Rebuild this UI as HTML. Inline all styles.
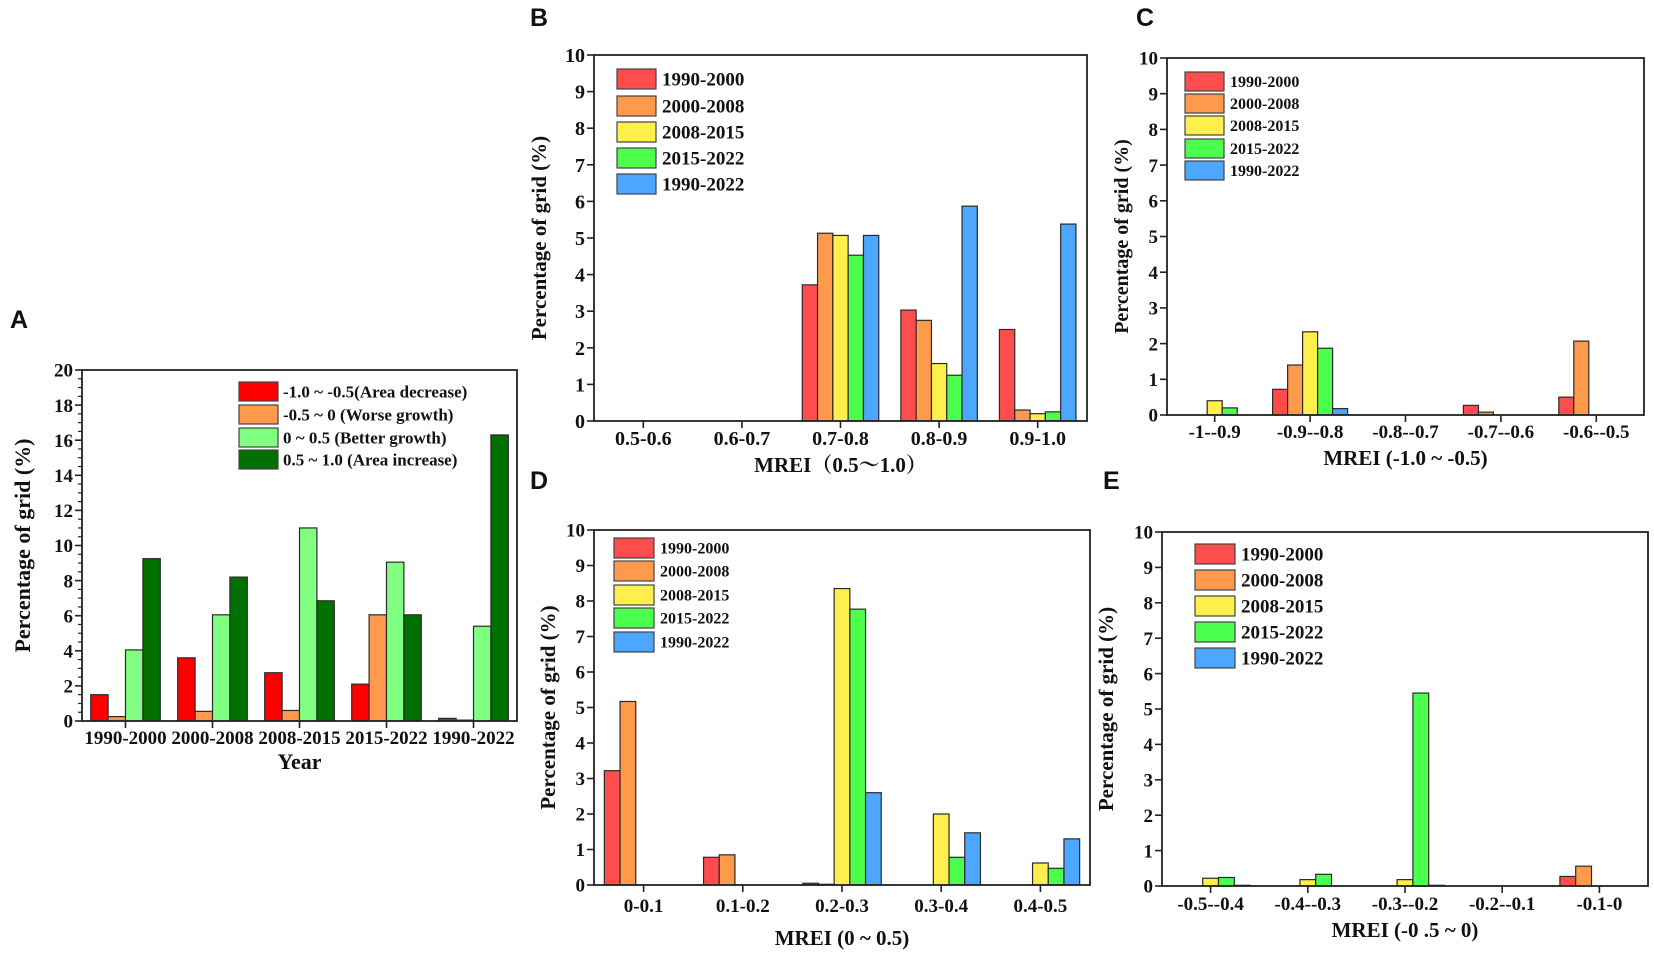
<!DOCTYPE html>
<html><head><meta charset="utf-8">
<style>
html,body{margin:0;padding:0;background:#fff;}
svg{display:block;}
text{font-family:"Liberation Serif","Noto Serif CJK SC",serif;font-weight:bold;fill:#111;}
.lt{font-family:"Liberation Sans",sans-serif;font-weight:bold;}
</style></head>
<body>
<svg id="s" width="1654" height="961" viewBox="0 0 1654 961" xmlns="http://www.w3.org/2000/svg">
<text class="lt" x="10" y="328" font-size="25">A</text>
<text class="lt" x="530" y="26" font-size="25">B</text>
<text class="lt" x="1136" y="26" font-size="25">C</text>
<text class="lt" x="530" y="489" font-size="25">D</text>
<text class="lt" x="1103" y="489" font-size="25">E</text>
</svg>
<script>
const S=document.getElementById('s');const NS='http://www.w3.org/2000/svg';
function el(t,a,txt){const e=document.createElementNS(NS,t);for(const k in a)e.setAttribute(k,a[k]);if(txt!==undefined)e.textContent=txt;S.appendChild(e);return e;}
const C5=['#ff4d4d','#ff9a4d','#ffef4d','#4dff4d','#4da6ff'];
const L5=['1990-2000','2000-2008','2008-2015','2015-2022','1990-2022'];
function panel(p){
 const {l,r,t,b,ymax,ystep,minor,cats,data,colors,bw,tfs,xl,xly,xt,xty,yt,ytx,leg}=p;
 const W=r-l,H=b-t,n=cats.length,cw=W/n;
 const Y=v=>b-v/ymax*H;
 for(let i=0;i<n;i++){const k=data[i].length;const gx=l+cw*(i+0.5)-k*bw/2;
  data[i].forEach((v,j)=>{if(v>0)el('rect',{x:gx+j*bw,y:Y(v),width:bw,height:b-Y(v),fill:colors[j],stroke:'#2a2a2a','stroke-width':1.2});});}
 el('rect',{x:l,y:t,width:W,height:H,fill:'none',stroke:'#222','stroke-width':1.8});
 for(let v=0;v<=ymax+1e-9;v+=ystep){el('line',{x1:l-7,x2:l,y1:Y(v),y2:Y(v),stroke:'#222','stroke-width':1.6});
  el('text',{x:l-9,y:Y(v)+tfs*0.35,'font-size':tfs,'text-anchor':'end'},String(Math.round(v)));}
 if(minor)for(let v=minor;v<ymax;v+=minor){if(Math.abs(v/ystep-Math.round(v/ystep))>0.01)el('line',{x1:l-4,x2:l,y1:Y(v),y2:Y(v),stroke:'#222','stroke-width':1.2});}
 for(let i=0;i<n;i++){const x=l+cw*(i+0.5);el('line',{x1:x,x2:x,y1:b,y2:b+7,stroke:'#222','stroke-width':1.6});
  el('text',{x:x,y:xty,'font-size':tfs,'text-anchor':'middle'},cats[i]);}
 el('text',{x:l+W/2,y:xly,'font-size':p.xfs||21,'text-anchor':'middle'},xl);
 el('text',{x:0,y:0,'font-size':p.yfs||21,'text-anchor':'middle',transform:`translate(${ytx},${t+H/2}) rotate(-90)`},'Percentage of grid (%)');
 const {x,x2,ys,h,tx,fs,labels}=leg;
 ys.forEach((y,i)=>{el('rect',{x:x,y:y,width:x2-x,height:h,fill:colors[i],stroke:'#444','stroke-width':1.2});
  el('text',{x:tx,y:y+h/2+fs*0.35,'font-size':fs,'xml:space':'preserve'},labels[i]);});
}
panel({l:82,r:517,t:370,b:721,ymax:20,ystep:2,minor:0.5,cats:['1990-2000','2000-2008','2008-2015','2015-2022','1990-2022'],
 data:[[1.5,0.25,4.05,9.25],[3.6,0.55,6.05,8.2],[2.75,0.6,11,6.85],[2.1,6.05,9.05,6.05],[0.15,0.05,5.4,16.3]],
 colors:['#ff0000','#ff9a4d','#80ff80','#007000'],bw:17.4,tfs:19,xl:'Year',xly:769,xty:744,ytx:30,yfs:22,xfs:22,
 leg:{x:239,x2:278,ys:[382,405,428,450],h:19,tx:283,fs:17,labels:['-1.0 ~ -0.5(Area decrease)','-0.5 ~  0   (Worse growth)',' 0   ~ 0.5 (Better growth)',' 0.5 ~ 1.0 (Area increase)']}});
panel({l:594,r:1087,t:55,b:421,ymax:10,ystep:1,cats:['0.5-0.6','0.6-0.7','0.7-0.8','0.8-0.9','0.9-1.0'],
 data:[[],[],[3.72,5.13,5.07,4.53,5.07],[3.03,2.75,1.57,1.25,5.87],[2.5,0.3,0.2,0.25,5.38]],
 colors:C5,bw:15.3,tfs:20,xl:'MREI（0.5～1.0）',xly:472,xty:445,ytx:546,yfs:21,
 leg:{x:617,x2:656,ys:[69,96,122,148,174],h:20,tx:662,fs:19,labels:L5}});
panel({l:1167,r:1644,t:58,b:415,ymax:10,ystep:1,cats:['-1--0.9','-0.9--0.8','-0.8--0.7','-0.7--0.6','-0.6--0.5'],
 data:[[0,0,0.4,0.2,0],[0.72,1.4,2.33,1.87,0.18],[],[0.27,0.08,0,0,0],[0.5,2.07,0,0,0]],
 colors:C5,bw:15,tfs:19,xl:'MREI (-1.0 ~ -0.5)',xly:465,xty:438,ytx:1128,yfs:20,
 leg:{x:1185,x2:1224,ys:[72,94,116,139,161],h:19,tx:1230,fs:16,labels:L5}});
panel({l:594,r:1090,t:530,b:885,ymax:10,ystep:1,cats:['0-0.1','0.1-0.2','0.2-0.3','0.3-0.4','0.4-0.5'],
 data:[[3.22,5.17,0,0,0],[0.78,0.85,0,0,0],[0.05,0.02,8.35,7.77,2.6],[0,0,2.0,0.78,1.47],[0,0,0.62,0.47,1.3]],
 colors:C5,bw:15.7,tfs:19,xl:'MREI (0 ~ 0.5)',xly:945,xty:912,ytx:555,yfs:21,
 leg:{x:614,x2:654,ys:[538,561,585,608,632],h:20,tx:660,fs:16,labels:L5}});
panel({l:1162,r:1648,t:532,b:886,ymax:10,ystep:1,cats:['-0.5--0.4','-0.4--0.3','-0.3--0.2','-0.2--0.1','-0.1-0'],
 data:[[0,0,0.22,0.24,0.02],[0,0,0.18,0.33,0],[0,0,0.18,5.45,0.02],[],[0.27,0.56,0,0,0]],
 colors:C5,bw:15.8,tfs:19,xl:'MREI (-0 .5 ~ 0)',xly:937,xty:910,ytx:1113,yfs:21,
 leg:{x:1195,x2:1235,ys:[544,570,596,622,648],h:20,tx:1241,fs:19,labels:L5}});
</script>
</body></html>
